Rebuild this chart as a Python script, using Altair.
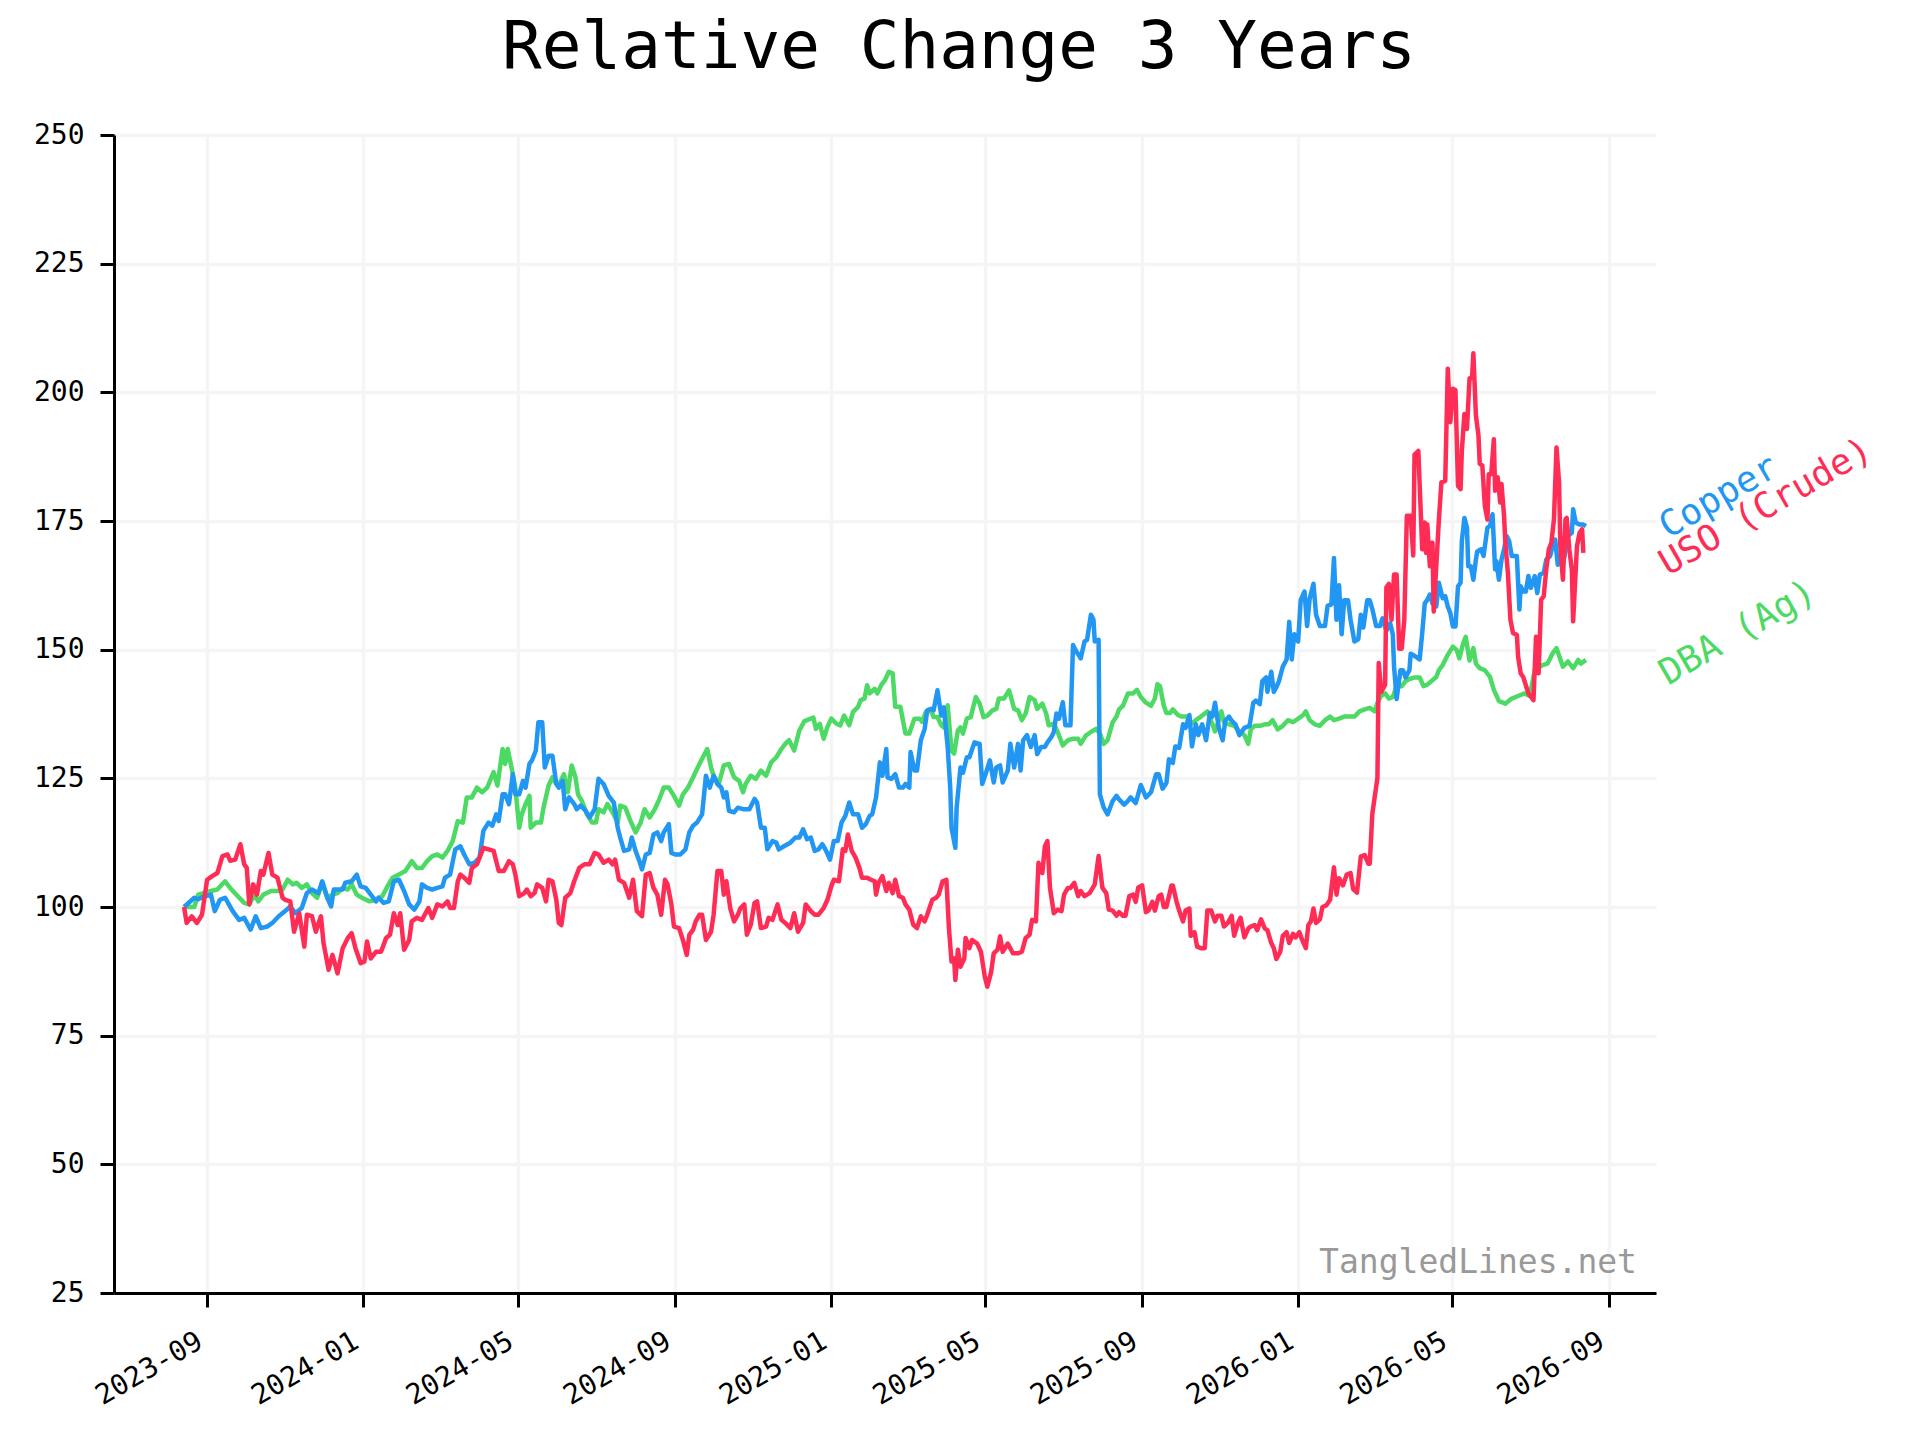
import altair as alt
import pandas as pd

START = "2023-08-14"

# (day offset from START, relative value)
copper = [
    (0, 100), (8, 101.8), (11, 101.5), (15, 102), (21, 102.4), (24, 99.2), (28, 101.4), (32, 101.8),
    (38, 99.2), (43, 97.5), (47, 97.9), (52, 95.6), (56, 98.2), (60, 95.9), (65, 96.2), (69, 96.9),
    (74, 98.2), (79, 99.2), (83, 100.1), (87, 98.8), (92, 99.8), (96, 102.7), (100, 103.4), (105, 102.7),
    (108, 105), (112, 101.8), (115, 100.1), (117, 103.4), (124, 103.4), (126, 104.7), (131, 105), (135, 106.3),
    (138, 104), (142, 103.7), (146, 102.4), (150, 101.1), (152, 101.8), (156, 100.8), (160, 101.1), (164, 105),
    (168, 105.3), (172, 103.1), (176, 100.5), (180, 99.5), (184, 101.1), (186, 104.4), (190, 103.7), (194, 103.4),
    (198, 103.7), (202, 104), (204, 105.7), (208, 106.3), (212, 111.2), (216, 111.8), (219, 110.2), (223, 108.3),
    (227, 108.6), (231, 109.6), (234, 114.8),
    (238, 116.4), (241, 115.8), (244, 118), (246, 116.7), (249, 121.9), (251, 121.9), (254, 120), (257, 125.8),
    (259, 121.9), (262, 121.9), (265, 124.5), (267, 123.2), (270, 127.8), (272, 128.5), (275, 130.4), (277, 135.9),
    (280, 135.9), (282, 127.1), (285, 129.4), (288, 129.4), (291, 123.9), (293, 123.2), (296, 124.5), (298, 119),
    (301, 121.3), (305, 120), (307, 119), (310, 119.7), (314, 118.7), (317, 117.4), (321, 119), (324, 124.9),
    (328, 123.9), (332, 121.6), (336, 120.3), (339, 115.4), (341, 113.5), (344, 110.9), (348, 111.2), (350, 113.5),
    (353, 110.9), (356, 108.9), (358, 107.3), (361, 110.2), (364, 110.5), (367, 114.1), (370, 114.5), (373, 112.8),
    (375, 114.5), (379, 116.1), (381, 110.5), (384, 110.2), (388, 110.2), (392, 111.2), (395, 114.5), (398, 115.8),
    (401, 116.4), (405, 118), (408, 125.5), (411, 123.2), (414, 125.5), (417, 123.9), (420, 123.2), (422, 121.3),
    (424, 122.3), (426, 118.7), (430, 118.4), (433, 119.3), (437, 119), (442, 119), (446, 121), (448, 120.3),
    (451, 115.4), (454, 115.4), (456, 111.2), (460, 112.8), (463, 112.5), (465, 111.2), (469, 111.8), (474, 112.5),
    (478, 113.5),
    (481, 113.5), (484, 115.1), (487, 113.2), (490, 113.5), (493, 110.9), (496, 111.2), (499, 112.2), (502, 110.9),
    (505, 109.2), (508, 112.8), (511, 112.8), (514, 116.4), (517, 117.7), (520, 120.3), (523, 118), (527, 118),
    (530, 115.4), (533, 116.1), (536, 117.7), (538, 118), (541, 121.3), (544, 128.1), (546, 125.5), (549, 130.7),
    (550, 125.2), (553, 124.9), (556, 125.8), (559, 123.2), (562, 123.2), (564, 123.9), (567, 123.2), (568, 130.1),
    (571, 126.5), (573, 126.5), (576, 132.4), (579, 134.6), (581, 138.2), (584, 138.5), (586, 138.2), (589, 142.1),
    (592, 137.2), (594, 138.8), (597, 131.1), (599, 123.2), (600, 115.4), (603, 111.5), (604, 119.3), (607, 127.1),
    (609, 126.1), (612, 129.1), (614, 129.1), (618, 132), (622, 131.7), (624, 123.9), (627, 126.1), (630, 128.5),
    (633, 124.2), (635, 127.1), (638, 127.5), (640, 124.2), (644, 126.5), (646, 131.7), (649, 127.1), (652, 131.7),
    (654, 126.5), (656, 132.4), (659, 133.4), (662, 131.1), (665, 133.4), (667, 129.7), (670, 131.1), (673, 131.1),
    (675, 132), (678, 133), (680, 134), (682, 137.6), (684, 136.6), (687, 139.8), (689, 135.3), (693, 135.3),
    (695, 150.9), (697, 149.9), (701, 148.3), (704, 151.6), (706, 151.9), (709, 156.8), (711, 155.8), (712, 151.6),
    (715, 151.9), (716, 121.9), (719, 119.3), (722, 118),
    (726, 120.6), (729, 121.6), (731, 120.9), (735, 119.9), (738, 120.6), (740, 121.3), (744, 120.2), (748, 123.7),
    (752, 121.3), (756, 122.3), (760, 125.8), (762, 125.8), (765, 123), (768, 124.1), (770, 128.7), (773, 128),
    (775, 131.2), (778, 130.9), (781, 135.5), (783, 134.8), (786, 137.3), (788, 131.2), (791, 135.5), (793, 133.4),
    (796, 135.5), (799, 132.4), (802, 137.7), (804, 137), (806, 139.7), (809, 134.8), (812, 132.4), (814, 136.2),
    (817, 137), (819, 136.2), (822, 135.5), (825, 133.4), (829, 134.8), (833, 135.2), (836, 139.7), (838, 140.1),
    (841, 139.4), (843, 143.9), (846, 144.6), (847, 141.8), (850, 145.7), (852, 141.8), (854, 142.7), (856, 143.9),
    (859, 146.7), (862, 148.1), (864, 155.4), (866, 148.1), (868, 153), (871, 151.6), (873, 159.6), (876, 161.3),
    (878, 154.6), (880, 159.9), (883, 162.8), (885, 156.8), (888, 154.6), (892, 154.6), (894, 158.5), (897, 158.8),
    (899, 167.8), (901, 155.8), (903, 162.5), (905, 153), (907, 159.6), (910, 159.6), (912, 155.8), (915, 151.6),
    (918, 152), (920, 156.8), (922, 154.3), (925, 159.6), (927, 159.6), (929, 157.9), (932, 154.6), (935, 154.6),
    (937, 156.1), (940, 153.7), (943, 155.1), (945, 153), (946, 146.7), (948, 140.4), (951, 146), (953, 146),
    (955, 144.6), (958, 146), (959, 149.2), (962, 148.8), (966, 148.1),
    (968, 153.2), (970, 159), (972, 159.7), (974, 160.7), (976, 159), (978, 161.3), (979, 158.4), (981, 163),
    (984, 160), (986, 160.4), (988, 158.4), (990, 157.1), (992, 154.5), (994, 154.5), (996, 162.3), (998, 163),
    (999, 171.1), (1001, 175.6), (1003, 173.7), (1004, 166.2), (1006, 166.2), (1008, 163.6), (1010, 167.5),
    (1011, 169.1), (1014, 169.5), (1016, 168.2), (1017, 170.1), (1019, 173.7), (1021, 174), (1023, 176.3),
    (1025, 165.6), (1026, 167.2), (1028, 163.6), (1030, 167.5), (1032, 169.5), (1034, 172.1), (1036, 171.1),
    (1038, 168.2), (1042, 168.2), (1044, 157.8), (1045, 162.3), (1047, 161.3), (1049, 161.3), (1051, 164.3),
    (1053, 162), (1056, 164.3), (1058, 161), (1060, 164.6), (1063, 164.9), (1065, 167.5), (1068, 168.2),
    (1070, 170.1), (1072, 171.4), (1074, 166.5), (1077, 168.8), (1079, 167.8), (1082, 172.1), (1085, 172.7),
    (1086, 177.3), (1088, 174.7), (1091, 174.3), (1094, 174.3), (1096, 174),
]

uso = [
    (0, 100), (2, 96.9), (6, 98.2), (10, 96.9), (14, 98.5), (18, 105.3), (22, 106), (26, 106.6), (30, 109.9),
    (34, 110.2), (36, 109), (40, 109.2), (44, 112.2), (47, 108.3), (49, 107.6), (51, 100.5), (54, 104.4),
    (57, 102.4), (60, 107), (62, 106.3), (66, 110.5), (69, 106.3), (73, 105.7), (77, 101.8), (79, 101.4),
    (83, 101.1), (86, 95.2), (90, 98.8), (94, 92.3), (96, 98.5), (100, 98.2), (103, 95.2), (107, 98.2), (109, 93),
    (113, 87.8), (116, 90.7), (120, 87.1), (124, 92), (128, 94), (131, 94.9), (134, 92), (138, 89.1), (141, 89.4),
    (143, 93.3), (146, 90), (150, 91.3), (154, 91.3), (158, 94), (161, 94.6), (164, 98.8), (167, 96.5), (169, 98.8),
    (172, 91.7), (176, 93.6), (178, 97.2), (182, 97.9), (186, 97.5), (191, 99.8), (194, 97.9), (198, 100.5),
    (202, 100.1), (206, 101.1), (208, 99.8), (211, 99.8), (214, 105), (216, 106.3), (219, 105.7), (223, 104.7),
    (225, 107.6), (229, 108.3), (234, 111.5),
    (238, 111.2), (242, 110.9), (246, 107), (250, 107), (254, 108.9), (257, 108.3), (259, 106.3), (262, 102.1),
    (266, 102.7), (268, 103.4), (271, 102.1), (274, 102.7), (276, 104.4), (280, 103.7), (283, 101.1), (285, 105.3),
    (288, 105), (291, 101.4), (293, 96.9), (295, 96.5), (298, 101.8), (302, 102.7), (305, 105), (309, 107.6),
    (313, 108.3), (317, 108.3), (321, 110.5), (324, 110.2), (328, 108.6), (332, 109.2), (335, 108.3), (337, 109.2),
    (340, 105.3), (344, 104.7), (348, 101.8), (351, 105.3), (354, 99.2), (358, 98.2), (361, 106.3), (364, 106.6),
    (367, 103.7), (370, 102.4), (373, 98.5), (376, 105.3), (378, 104.4), (381, 100.5), (383, 96.2), (387, 95.9),
    (390, 93.6), (393, 90.7), (395, 94.6), (398, 95.6), (400, 97.2), (403, 98.5), (405, 98.5), (408, 93.6),
    (412, 95.2), (414, 98.5), (417, 107), (420, 107), (422, 102.4), (424, 105), (427, 99.8), (430, 97.2),
    (433, 98.5), (435, 99.8), (438, 100.5), (440, 94.6), (443, 96.5), (446, 100.8), (448, 101.1), (451, 95.9),
    (455, 96.2), (457, 97.9), (460, 97.5), (464, 100.5), (467, 97.5), (470, 96.9), (474, 95.9), (477, 98.8),
    (480, 95.2),
    (484, 96.9), (486, 100.5), (490, 99.2), (493, 98.5), (496, 98.5), (500, 99.8), (503, 101.4), (506, 104),
    (508, 105.3), (512, 105), (515, 111.2), (517, 110.9), (519, 114.1), (522, 110.9), (525, 109.6), (528, 107.6),
    (530, 105.7), (534, 105.7), (537, 105.3), (540, 105), (541, 102.4), (543, 104.7), (546, 106), (549, 103.1),
    (551, 104.7), (554, 102.7), (556, 105.3), (559, 102.1), (562, 101.8), (564, 100.5), (567, 99.5), (570, 96.6),
    (573, 95.9), (576, 98.2), (579, 97.2), (581, 98.5), (585, 101.4), (588, 101.8), (590, 102.4), (593, 105),
    (596, 105.3), (598, 95.9), (600, 89.4), (602, 90), (603, 85.8), (605, 91.7), (607, 88.4), (610, 90), (611, 94),
    (614, 92), (616, 93.6), (620, 92.9), (623, 91.3), (626, 86.5), (628, 84.5), (631, 87.4), (633, 91), (636, 91.7),
    (638, 94.3), (640, 91.3), (644, 92.9), (648, 91), (652, 91), (655, 91.3), (658, 94), (661, 94.6), (663, 97.5),
    (666, 97.2), (668, 108.6), (671, 106.6), (673, 111.8), (675, 112.8), (677, 103.7), (680, 98.8), (683, 99.5),
    (686, 99.2), (688, 102.4), (691, 103.7), (693, 103.7), (696, 104.7), (699, 102.1), (701, 103.1), (704, 102.1),
    (708, 102.7), (712, 104.4), (715, 109.9), (718, 103.7), (721, 102.7), (723, 99.5),
    (726, 99.3), (729, 98.3), (731, 99), (734, 98.3), (736, 98.3), (739, 102.1), (742, 102.4), (744, 101),
    (746, 103.8), (749, 104.2), (752, 99), (754, 99.3), (757, 101), (759, 99.3), (762, 102.1), (764, 102.4),
    (766, 100), (768, 100), (772, 104.2), (773, 104.2), (776, 101), (778, 99.3), (781, 97.2), (783, 99.3),
    (786, 99.7), (787, 94.4), (790, 95.1), (792, 92.3), (795, 92), (798, 92), (800, 99.3), (803, 99.3), (806, 97.2),
    (808, 98.3), (811, 98.3), (813, 96.2), (816, 96.9), (819, 98.3), (821, 94.4), (824, 96.9), (826, 97.9),
    (829, 94.1), (832, 95.8), (834, 96.2), (837, 96.5), (839, 95.5), (842, 97.6), (845, 95.8), (847, 95.5),
    (850, 93), (852, 92), (854, 89.9), (857, 91.3), (859, 94.4), (862, 95.1), (864, 93), (867, 94.8), (869, 94.1),
    (872, 95.1), (874, 93.7), (877, 92), (879, 96.5), (881, 97.2), (883, 99.7), (885, 96.9), (888, 97.6), (890, 100),
    (893, 100.3), (896, 101.4), (899, 107.7), (901, 102.4), (903, 105.6), (906, 104.2), (909, 106.3), (912, 106.6),
    (914, 103.5), (917, 102.8), (920, 109.8), (923, 110.1), (926, 108.4), (927, 108.4), (929, 118.1), (931, 121.6),
    (933, 125.1), (934, 147.4), (936, 141.8), (939, 143.2), (940, 162.1), (942, 162.8), (944, 155.8), (946, 164.6),
    (948, 164.6), (950, 150.2), (952, 150.2), (954, 155.8), (956, 176), (959, 176), (961, 168.3), (962, 187.9),
    (965, 188.6), (968, 169.5), (970, 174.7), (971, 168.8), (972, 174.3), (974, 166.2), (976, 170.8), (977, 157.4),
    (979, 166.2), (981, 175), (983, 182.5), (986, 182.8), (988, 204.6), (990, 194.2), (992, 200.7), (994, 200.4),
    (996, 181.8), (998, 181.2), (999, 188.7), (1001, 195.8), (1003, 192.9), (1005, 202.7), (1007, 203),
    (1008, 207.6), (1010, 195.5), (1012, 191.6), (1013, 186.1), (1015, 185.8), (1017, 177.9), (1019, 175.3),
    (1020, 184.1), (1022, 184.1), (1024, 190.9), (1025, 180.9), (1027, 183.5), (1029, 178.6), (1030, 182.2),
    (1032, 176), (1033, 170.8), (1035, 164.9), (1037, 155.8), (1039, 153.2), (1042, 152.9), (1043, 148.6),
    (1045, 145.4), (1047, 144.7), (1051, 141.5), (1055, 140.2), (1057, 152.5), (1059, 145.4), (1061, 159.7),
    (1063, 160.4), (1065, 165.6), (1067, 169.5), (1069, 170.8), (1071, 175.3), (1073, 189.3), (1075, 182.5),
    (1076, 170.1), (1078, 163.6), (1080, 175.3), (1081, 175.6), (1083, 169.5), (1085, 165.6), (1086, 155.5),
    (1087, 160.4), (1089, 170.1), (1091, 172.7), (1093, 173.4), (1094, 168.8),
]

dba = [
    (0, 100), (8, 100), (11, 102.4), (15, 102.7), (21, 103.1), (26, 103.4), (32, 105), (36, 103.7), (42, 102.1),
    (47, 100.8), (51, 100.5), (55, 102.4), (58, 101.1), (62, 102.4), (68, 103.1), (73, 103.1), (77, 103.4),
    (81, 105.3), (85, 104.4), (88, 104.7), (92, 103.7), (96, 104.4), (100, 102.7), (104, 101.8), (108, 104.7),
    (112, 101.8), (116, 102.4), (120, 102.7), (124, 103.7), (128, 103.4), (131, 104.4), (135, 102.4), (139, 101.8),
    (145, 101.1), (150, 101.4), (155, 102.1), (159, 104), (163, 105.7), (168, 106.3), (173, 107), (178, 108.9),
    (182, 107.6), (186, 107.6), (190, 108.9), (194, 109.9), (198, 110.2), (202, 109.6), (206, 110.9), (210, 112.8),
    (214, 116.7), (218, 116.4), (221, 121.3), (225, 121.3), (229, 123.2), (233, 122.3), (237, 123.2),
    (242, 126.2), (245, 123.6), (249, 130.7), (251, 127.8), (253, 130.7), (256, 127.1), (259, 123.2), (262, 115.4),
    (264, 118), (267, 120), (270, 121.6), (271, 115.4), (275, 116.4), (279, 116.4), (281, 119.3), (285, 123.6),
    (288, 125.2), (291, 123.9), (294, 124.2), (297, 125.8), (300, 122.3), (303, 127.5), (306, 125.2), (308, 121.9),
    (311, 120.6), (315, 118), (319, 116.4), (322, 116.4), (324, 119), (328, 118.4), (331, 120), (335, 118.4),
    (339, 116.4), (341, 119.7), (345, 119.3), (349, 116.7), (353, 114.5), (357, 116.4), (360, 119), (364, 117.4),
    (368, 119), (371, 120.6), (375, 123.2), (379, 123.2), (383, 121.6), (387, 119.7), (390, 121.9), (394, 123.2),
    (398, 125.2), (401, 126.8), (405, 128.8), (409, 130.7), (412, 127.1), (414, 125.5), (418, 123.9), (422, 127.5),
    (426, 127.8), (430, 125.2), (434, 124.5), (437, 122.3), (439, 123.9), (443, 125.5), (447, 124.9), (451, 126.5),
    (455, 125.5), (459, 128.1), (463, 129.1), (467, 130.7), (470, 131.7), (473, 132.4), (477, 130.4),
    (481, 134.3), (485, 136.1), (489, 136.5), (492, 136.8), (494, 134.6), (497, 135.6), (500, 132.7), (503, 135),
    (506, 136.6), (510, 135.6), (513, 135.3), (516, 137.2), (520, 135.3), (523, 137.9), (527, 138.9), (529, 140.2),
    (532, 140.5), (534, 143.1), (536, 141.5), (540, 142.4), (542, 141.5), (545, 143.1), (548, 144.1), (551, 145.7),
    (554, 145.4), (556, 138.9), (560, 138.9), (564, 133.7), (567, 133.7), (571, 136.6), (575, 136.6), (577, 136),
    (580, 137.9), (584, 138.2), (586, 136.9), (589, 136.9), (592, 135.3), (594, 134.9), (597, 139.2), (600, 130.4),
    (602, 129.8), (605, 134.3), (607, 134.9), (609, 133.7), (612, 136.6), (615, 136.9), (619, 140.8), (622, 139.5),
    (625, 136.9), (628, 137.2), (632, 138.2), (635, 138.5), (637, 140.5), (641, 140.5), (645, 142.1), (649, 138.5),
    (652, 138.2), (655, 136.3), (658, 137.6), (661, 140.8), (665, 140.2), (667, 138.5), (671, 139.5), (674, 137.6),
    (676, 135.3), (680, 135.6), (683, 134), (687, 131.4), (691, 132.4), (695, 132.7), (699, 132.7), (701, 131.7),
    (705, 133.3), (709, 134), (713, 134.6), (716, 133.7), (719, 131.7), (722, 132.4),
    (726, 135.9), (729, 137), (731, 138.4), (734, 139.1), (738, 141.5), (742, 141.5), (745, 142.2), (748, 140.8),
    (752, 139.7), (756, 139.1), (759, 140.5), (761, 143.3), (763, 142.9), (766, 139.1), (768, 137.7), (771, 137.7),
    (773, 138.4), (777, 137.3), (780, 137), (784, 137), (787, 135.5), (791, 136.3), (795, 137), (800, 138),
    (804, 135.5), (806, 134.1), (809, 136.3), (811, 138), (813, 135.9), (817, 135.5), (821, 135.2), (825, 134.1),
    (829, 133.4), (832, 131.7), (834, 134.5), (837, 135.2), (841, 135.2), (845, 135.5), (848, 135.5), (851, 136.3),
    (855, 134.5), (859, 135.2), (863, 136.3), (867, 135.9), (871, 136.6), (875, 137.3), (877, 138), (880, 136.3),
    (884, 135.5), (888, 135.2), (892, 136.3), (896, 137), (899, 136.3), (903, 136.6), (907, 137), (911, 137),
    (915, 137), (919, 138), (923, 138.4), (927, 138.7), (931, 138), (933, 139.7), (936, 141.1), (939, 141.5),
    (942, 140.5), (945, 140.8), (948, 142.9), (952, 142.9), (955, 143.9), (958, 144.3), (962, 144.6), (966, 144.6),
    (969, 142.9), (972, 143.2),
    (979, 144.7), (981, 146), (984, 147), (988, 149), (992, 150.6), (995, 149.9), (997, 148.3), (1000, 151.2),
    (1002, 152.5), (1005, 147.9), (1008, 150.3), (1010, 147.3), (1013, 146.4), (1017, 146), (1021, 144.7),
    (1024, 142.2), (1028, 140), (1033, 139.5), (1038, 140.5), (1043, 141), (1048, 141.5), (1052, 141),
    (1056, 146), (1062, 147), (1066, 147.3), (1070, 149.3), (1073, 150.3), (1078, 146.7), (1082, 147.7),
    (1086, 146.4), (1090, 148), (1092, 147.3), (1096, 148),
]

series_names = ["Copper", "USO (Crude)", "DBA (Ag)"]
series_colors = ["#2196F3", "#FF2D55", "#4CD964"]
label_values = [171.5, 164.3, 143.0]
y_ticks = [25, 50, 75, 100, 125, 150, 175, 200, 225, 250]
x_tick_months = [(2023, 9), (2024, 1), (2024, 5), (2024, 9), (2025, 1),
                 (2025, 5), (2025, 9), (2026, 1), (2026, 5), (2026, 9)]
title_text = "Relative Change 3 Years"
watermark = "TangledLines.net"

FONT = "DejaVu Sans Mono"
W, H = 1542, 1158


def frame(pairs, name):
    days = [p[0] for p in pairs]
    vals = [p[1] for p in pairs]
    d = pd.Timestamp(START) + pd.to_timedelta(days, unit="D")
    return pd.DataFrame({"date": d.strftime("%Y-%m-%d"), "value": vals, "series": name})


x_scale = alt.Scale(
    type="utc",
    domain=[alt.DateTime(year=2023, month=6, date=20, hours=5, utc=True),
            alt.DateTime(year=2026, month=10, date=7, hours=19, utc=True)],
)
y_scale = alt.Scale(domain=[25, 250], nice=False, zero=False)

x_axis = alt.Axis(
    values=[alt.DateTime(year=y, month=m, date=1, utc=True) for y, m in x_tick_months],
    labelExpr="utcFormat(datum.value, '%Y-%m')", labelAngle=330, labelAlign="right",
    labelBaseline="top", labelOffset=-14, labelPadding=20, labelOverlap=False,
    labelFlush=False, labelBound=False, grid=True, title=None,
)
y_axis = alt.Axis(values=y_ticks, grid=True, title=None, labelPadding=16,
                  labelFlush=False, labelOverlap=False)


def line_layer(pairs, name, color):
    return alt.Chart(frame(pairs, name)).mark_line(
        color=color, strokeWidth=4.5, strokeJoin="round"
    ).encode(
        x=alt.X("date:T", scale=x_scale, axis=x_axis),
        y=alt.Y("value:Q", scale=y_scale, axis=y_axis),
    )


dba_line = line_layer(dba, series_names[2], series_colors[2])
copper_line = line_layer(copper, series_names[0], series_colors[0])
uso_line = line_layer(uso, series_names[1], series_colors[1])

labels_df = pd.DataFrame({"series": series_names, "value": label_values})
labels = alt.Chart(labels_df).mark_text(
    font=FONT, fontSize=36, angle=330, align="left", baseline="alphabetic"
).encode(
    x=alt.value(W + 12),
    y=alt.Y("value:Q", scale=y_scale, axis=y_axis),
    text="series:N",
    color=alt.Color("series:N", scale=alt.Scale(domain=series_names, range=series_colors), legend=None),
)

wm = alt.Chart(pd.DataFrame({"t": [watermark]})).mark_text(
    font=FONT, fontSize=33, color="#999999", align="right", baseline="alphabetic"
).encode(x=alt.value(W - 19), y=alt.value(H - 20), text="t:N")

title = alt.Chart(pd.DataFrame({"t": [title_text]})).mark_text(
    font=FONT, fontSize=66, color="black", align="center", baseline="alphabetic"
).encode(x=alt.value(W / 2 + 74), y=alt.value(-67), text="t:N")

chart = alt.layer(dba_line, copper_line, uso_line, labels, wm, title).properties(
    width=W, height=H,
    padding={"left": 106, "top": 127, "right": 255, "bottom": 140},
    autosize=alt.AutoSizeParams(type="none"),
).configure_view(stroke=None).configure_axis(
    domainColor="black", domainWidth=3, tickColor="black", tickWidth=3, tickSize=14,
    labelFont=FONT, labelFontSize=28, labelColor="black",
    gridColor="#f5f5f5", gridWidth=3.5,
)

chart.save("out.html", embed_options={"renderer": "svg", "actions": False})
